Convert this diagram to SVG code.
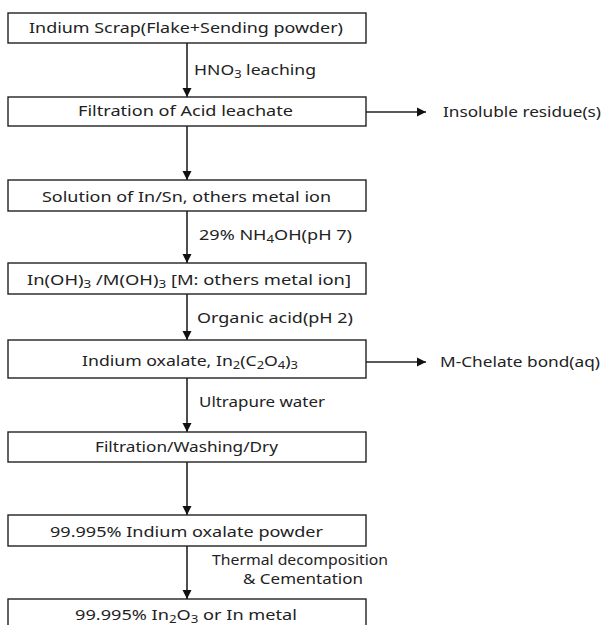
<svg xmlns="http://www.w3.org/2000/svg" width="603" height="625" viewBox="0 0 603 625">
<style>
.box{fill:#fff;stroke:#222;stroke-width:1.4}
.t{font-family:"Noto Sans","Noto Sans CJK KR",sans-serif;font-size:15px;fill:#222}
.s{font-size:11px}
.th{font-size:13.5px}
.ln{stroke:#222;stroke-width:1.6;fill:none}
</style>
<defs>
<marker id="ah" markerUnits="userSpaceOnUse" markerWidth="10" markerHeight="10" refX="9" refY="5" orient="auto">
<path d="M0,0.5 L9,5 L0,9.5 Z" fill="#111"/>
</marker>
</defs>
<rect width="603" height="625" fill="#fff"/>
<g id="connectors">
<line class="ln" x1="187" y1="43" x2="187" y2="97" marker-end="url(#ah)"/>
<line class="ln" x1="187" y1="126" x2="187" y2="180" marker-end="url(#ah)"/>
<line class="ln" x1="187" y1="211" x2="187" y2="263" marker-end="url(#ah)"/>
<line class="ln" x1="187" y1="294" x2="187" y2="340" marker-end="url(#ah)"/>
<line class="ln" x1="187" y1="378" x2="187" y2="432" marker-end="url(#ah)"/>
<line class="ln" x1="187" y1="462" x2="187" y2="515" marker-end="url(#ah)"/>
<line class="ln" x1="187" y1="546" x2="187" y2="599" marker-end="url(#ah)"/>
<line class="ln" x1="366" y1="112" x2="426" y2="112" marker-end="url(#ah)"/>
<line class="ln" x1="366" y1="362" x2="426" y2="362" marker-end="url(#ah)"/>
<text class="t" x="194" y="75" textLength="122" lengthAdjust="spacingAndGlyphs">HNO<tspan class="s" dy="3">3</tspan><tspan dy="-3"> leaching</tspan></text>
<text class="t" x="199" y="240" textLength="153" lengthAdjust="spacingAndGlyphs">29% NH<tspan class="s" dy="3">4</tspan><tspan dy="-3">OH(pH  7)</tspan></text>
<text class="t" x="197" y="323" textLength="156" lengthAdjust="spacingAndGlyphs">Organic acid(pH  2)</text>
<text class="t" x="199" y="407" textLength="126" lengthAdjust="spacingAndGlyphs">Ultrapure water</text>
<text class="t th" x="212" y="565" textLength="176" lengthAdjust="spacingAndGlyphs">Thermal decomposition</text>
<text class="t th" x="243" y="584" textLength="120" lengthAdjust="spacingAndGlyphs">&amp; Cementation</text>
</g>
<g id="n1"><rect class="box" x="8" y="13" width="358" height="30"/>
<text class="t" x="29" y="33" textLength="314" lengthAdjust="spacingAndGlyphs">Indium Scrap(Flake+Sending  powder)</text></g>
<g id="n2"><rect class="box" x="8" y="97" width="358" height="29"/>
<text class="t" x="78" y="116" textLength="215" lengthAdjust="spacingAndGlyphs">Filtration  of  Acid  leachate</text></g>
<g id="n3"><rect class="box" x="8" y="180" width="358" height="31"/>
<text class="t" x="42" y="202" textLength="289" lengthAdjust="spacingAndGlyphs">Solution of In/Sn, others metal  ion</text></g>
<g id="n4"><rect class="box" x="8" y="263" width="358" height="31"/>
<text class="t" x="27" y="285" textLength="324" lengthAdjust="spacingAndGlyphs">In(OH)<tspan class="s" dy="3">3</tspan><tspan dy="-3"> /M(OH)</tspan><tspan class="s" dy="3">3</tspan><tspan dy="-3">   [M: others metal  ion]</tspan></text></g>
<g id="n5"><rect class="box" x="8" y="340" width="358" height="38"/>
<text class="t" x="82" y="366" textLength="216" lengthAdjust="spacingAndGlyphs">Indium  oxalate,  In<tspan class="s" dy="3">2</tspan><tspan dy="-3">(C</tspan><tspan class="s" dy="3">2</tspan><tspan dy="-3">O</tspan><tspan class="s" dy="3">4</tspan><tspan dy="-3">)</tspan><tspan class="s" dy="3">3</tspan></text></g>
<g id="n6"><rect class="box" x="8" y="432" width="358" height="30"/>
<text class="t" x="95" y="452" textLength="183" lengthAdjust="spacingAndGlyphs">Filtration/Washing/Dry</text></g>
<g id="n7"><rect class="box" x="8" y="515" width="358" height="31"/>
<text class="t" x="50" y="537" textLength="273" lengthAdjust="spacingAndGlyphs">99.995%  Indium  oxalate  powder</text></g>
<g id="n8"><rect class="box" x="8" y="599" width="358" height="40"/>
<text class="t" x="75" y="620" textLength="222" lengthAdjust="spacingAndGlyphs">99.995%  In<tspan class="s" dy="3">2</tspan><tspan dy="-3">O</tspan><tspan class="s" dy="3">3</tspan><tspan dy="-3"> or In metal</tspan></text></g>
<g id="r1"><text class="t" x="443" y="117" textLength="158" lengthAdjust="spacingAndGlyphs">Insoluble residue(s)</text></g>
<g id="r2"><text class="t" x="440" y="367" textLength="160" lengthAdjust="spacingAndGlyphs">M-Chelate bond(aq)</text></g>
</svg>
